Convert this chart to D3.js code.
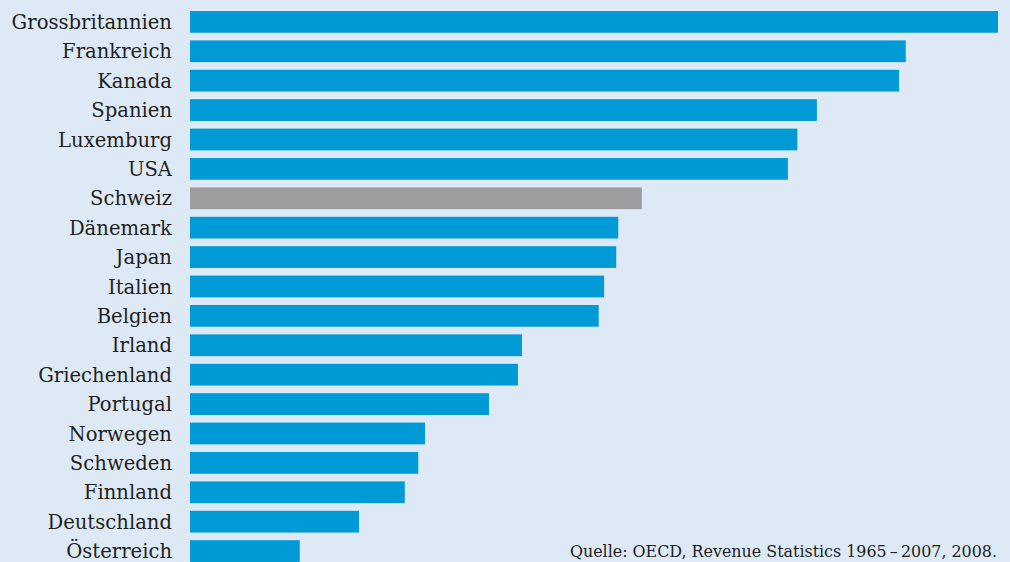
<!DOCTYPE html>
<html>
<head>
<meta charset="utf-8">
<script src="https://cdn.jsdelivr.net/npm/d3@7"></script>
<style>
  body { margin: 0; background: #dde9f5; }
  svg { display: block; }
  .label { font-family: "DejaVu Serif", serif; font-size: 19.6px; fill: #231f20; }
  .source { font-family: "DejaVu Serif", serif; font-size: 15.9px; fill: #231f20; }
</style>
</head>
<body>
<svg></svg>
<script>
// Base SVG values
let width = 1010
let height = 562

// Data
let countries = ["Grossbritannien", "Frankreich", "Kanada", "Spanien", "Luxemburg", "USA",
  "Schweiz", "Dänemark", "Japan", "Italien", "Belgien", "Irland", "Griechenland",
  "Portugal", "Norwegen", "Schweden", "Finnland", "Deutschland", "Österreich"]
let values = [12.0, 10.63, 10.53, 9.31, 9.02, 8.88, 6.71, 6.36, 6.33, 6.15, 6.07,
  4.93, 4.87, 4.44, 3.49, 3.39, 3.19, 2.51, 1.63]
let highlight = "Schweiz"
let sourceText = "Quelle: OECD, Revenue Statistics 1965\u2009\u2013\u20092007, 2008."

let svg = d3.select("svg")
  .attr("width", width)
  .attr("height", height)

svg.append("rect")
  .attr("width", width)
  .attr("height", height)
  .attr("fill", "#dde9f5")

// Scales
let xScale = d3.scaleLinear()
  .domain([0, 12])
  .range([190, 998])

let step = 29.4
let yScale = d3.scaleBand()
  .domain(countries)
  .range([11 - step * 0.13, 11 - step * 0.13 + step * countries.length])
  .paddingInner(0.26)
  .paddingOuter(0.13)

// Bars
svg.selectAll(".bar")
  .data(countries)
  .enter()
  .append("rect")
    .attr("class", "bar")
    .attr("x", xScale(0))
    .attr("y", d => yScale(d))
    .attr("height", yScale.bandwidth())
    .attr("width", (d, i) => xScale(values[i]) - xScale(0))
    .attr("fill", d => d === highlight ? "#9d9d9f" : "#009bd6")

// Labels
svg.selectAll(".label")
  .data(countries)
  .enter()
  .append("text")
    .attr("class", "label")
    .attr("x", 172)
    .attr("y", d => yScale(d) + yScale.bandwidth() / 2)
    .attr("dy", "0.36em")
    .attr("text-anchor", "end")
    .text(d => d)

// Source
svg.append("text")
  .attr("class", "source")
  .attr("x", 997)
  .attr("y", 557)
  .attr("text-anchor", "end")
  .text(sourceText)
</script>
</body>
</html>
